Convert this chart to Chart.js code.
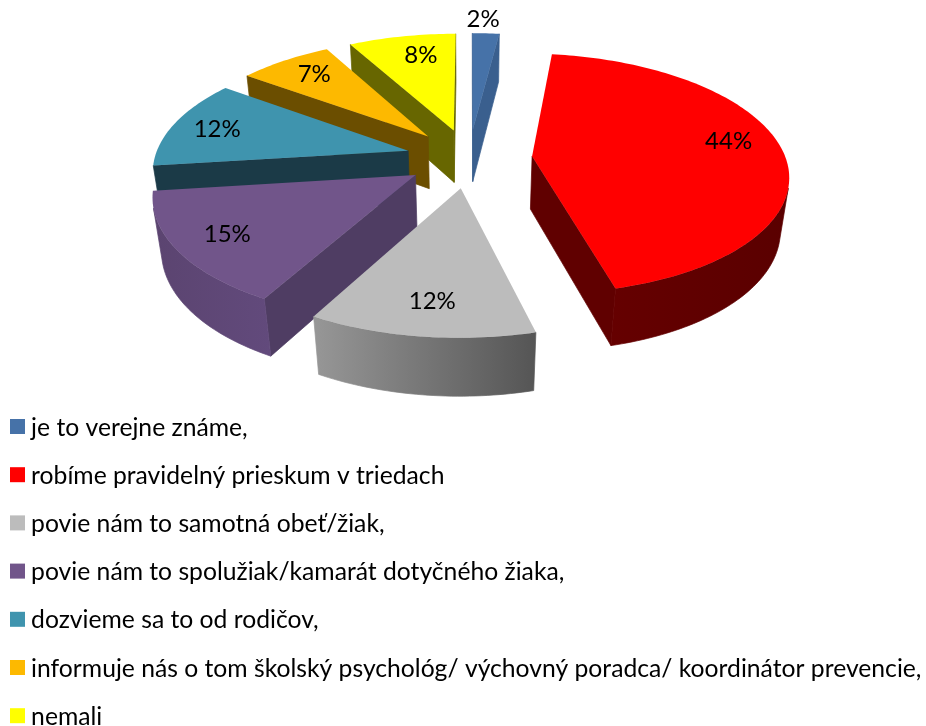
<!DOCTYPE html>
<html>
<head>
<meta charset="utf-8">
<style>html,body{margin:0;padding:0;background:#fff}canvas{display:block}</style>
<script src="https://cdn.jsdelivr.net/npm/chart.js@4"></script>
</head>
<body>
<canvas id="c" width="926" height="726"></canvas>
<script>
const categories = [
  "je to verejne známe,",
  "robíme pravidelný prieskum v triedach",
  "povie nám to samotná obeť/žiak,",
  "povie nám to spolužiak/kamarát dotyčného žiaka,",
  "dozvieme sa to od rodičov,",
  "informuje nás o tom školský psychológ/ výchovný poradca/ koordinátor prevencie,",
  "nemali"
];
const values = [2, 44, 12, 15, 12, 7, 8];
const faceColors = ["#4672A8", "#FF0000", "#BCBCBC", "#71558A", "#3F94AE", "#FDB900", "#FFFF00"];
const radialWallColors = ["#3A5F8E", "#600000", "#6E6E6E", "#4F3D63", "#1B3A47", "#6B4E00", "#676600"];
const outerWallLeft = ["#3A5F8E", "#650000", "#979797", "#5B4470", "#1B3A47", "#6B4E00", "#676600"];
const outerWallRight = ["#3A5F8E", "#5A0000", "#555555", "#624A7C", "#1B3A47", "#6B4E00", "#676600"];
const drawOrder = [0, 6, 5, 4, 3, 2, 1];
const labelRadius = [1.18, 0.81, 0.78, 0.80, 0.815, 0.80, 0.78];
const labelAngleShare = [0.35, 0.46, 0.49, 0.51, 0.50, 0.55, 0.60];

const view = {cx: 469, cy: 158, A: 253.5, B: 118, k: 0.145, explode: 0.25, drop: 54.5, g: 0.028};
const FONT = '24px Lato';

function project(u, v, low) {
  const w = 1 + view.k * v + (low ? view.g : 0);
  return {
    x: view.cx + view.A * u / w,
    y: view.cy + (-view.B * v + (low ? view.drop : 0)) / w
  };
}
function area(p) {
  let s = 0;
  for (let i = 0; i < p.length; i++) {
    const a = p[i], b = p[(i + 1) % p.length];
    s += a.x * b.y - b.x * a.y;
  }
  return s / 2;
}
function fillPoly(ctx, pts, style, seal) {
  ctx.beginPath();
  pts.forEach((p, i) => i ? ctx.lineTo(p.x, p.y) : ctx.moveTo(p.x, p.y));
  ctx.closePath();
  ctx.fillStyle = style;
  ctx.fill();
  if (seal) {
    ctx.strokeStyle = style;
    ctx.lineWidth = 0.7;
    ctx.stroke();
  }
}

const pie3d = {
  id: 'pie3d',
  beforeDatasetDraw() { return false; },
  afterDatasetsDraw(chart) {
    const ctx = chart.ctx;
    const arcs = chart.getDatasetMeta(0).data;
    const geo = arcs.map(a => {
      const s = a.startAngle + Math.PI / 2, e = a.endAngle + Math.PI / 2, m = (s + e) / 2;
      return {s, e, m, ox: view.explode * Math.sin(m), oy: view.explode * Math.cos(m)};
    });
    ctx.save();
    drawOrder.forEach(i => {
      const g = geo[i];
      const at = (phi, r) => [g.ox + r * Math.sin(phi), g.oy + r * Math.cos(phi)];
      const steps = Math.max(8, Math.ceil((g.e - g.s) / 0.02));
      const angs = [];
      for (let n = 0; n <= steps; n++) angs.push(g.s + (g.e - g.s) * n / steps);
      // radial walls, wound like the rim so that the same facing test applies
      [g.s, g.e].forEach((phi, idx) => {
        const a = at(phi, 0), b = at(phi, 1);
        const wall = idx === 0
          ? [project(a[0], a[1]), project(a[0], a[1], true), project(b[0], b[1], true), project(b[0], b[1])]
          : [project(b[0], b[1]), project(b[0], b[1], true), project(a[0], a[1], true), project(a[0], a[1])];
        if (area(wall) > 0) fillPoly(ctx, wall, radialWallColors[i], true);
      });
      // outer wall, camera-facing part
      const tops = [], lows = [];
      for (let n = 0; n < steps; n++) {
        const a = at(angs[n], 1), b = at(angs[n + 1], 1);
        const q = [project(a[0], a[1]), project(a[0], a[1], true), project(b[0], b[1], true), project(b[0], b[1])];
        if (area(q) > 0) {
          if (!tops.length) { tops.push(q[0]); lows.push(q[1]); }
          tops.push(q[3]); lows.push(q[2]);
        }
      }
      if (tops.length) {
        const poly = tops.concat(lows.slice().reverse());
        const xs = poly.map(p => p.x);
        const grad = ctx.createLinearGradient(Math.min(...xs), 0, Math.max(...xs), 0);
        grad.addColorStop(0, outerWallLeft[i]);
        grad.addColorStop(1, outerWallRight[i]);
        fillPoly(ctx, poly, grad, true);
      }
      // top face
      const face = [project(g.ox, g.oy)];
      angs.forEach(phi => { const p = at(phi, 1); face.push(project(p[0], p[1])); });
      fillPoly(ctx, face, faceColors[i]);
    });
    // value labels
    ctx.font = FONT;
    ctx.fillStyle = '#000';
    ctx.textAlign = 'center';
    ctx.textBaseline = 'middle';
    geo.forEach((g, i) => {
      const phi = g.s + (g.e - g.s) * labelAngleShare[i];
      const p = project(g.ox + labelRadius[i] * Math.sin(phi), g.oy + labelRadius[i] * Math.cos(phi));
      ctx.fillText(values[i] + '%', p.x, p.y + 1.2);
    });
    // legend swatches, aligned independently of the legend text
    faceColors.forEach((c, i) => {
      ctx.fillStyle = c;
      ctx.fillRect(10, 419 + 48.2 * i, 15, 15);
    });
    ctx.restore();
  },
  beforeDraw(chart) {
    const l = chart.legend;
    const h = l.bottom - l.top;
    l.left = -6.95;
    l.top = 392.3;
    l.bottom = l.top + h;
  }
};

new Chart(document.getElementById('c'), {
  type: 'pie',
  data: {
    labels: categories,
    datasets: [{data: values, backgroundColor: faceColors, borderWidth: 0}]
  },
  plugins: [pie3d],
  options: {
    responsive: false,
    animation: false,
    events: [],
    layout: {padding: 0},
    plugins: {
      tooltip: {enabled: false},
      legend: {
        position: 'chartArea',
        align: 'start',
        labels: {
          color: '#000',
          font: {family: 'Lato', size: 24.7},
          boxWidth: 2.3,
          boxHeight: 2.3,
          padding: 23.4,
          generateLabels() {
            return categories.map((t, i) => ({
              text: t, fillStyle: 'rgba(0,0,0,0)', strokeStyle: 'rgba(0,0,0,0)',
              lineWidth: 0, index: i, hidden: false
            }));
          }
        }
      }
    }
  }
});
</script>
</body>
</html>
